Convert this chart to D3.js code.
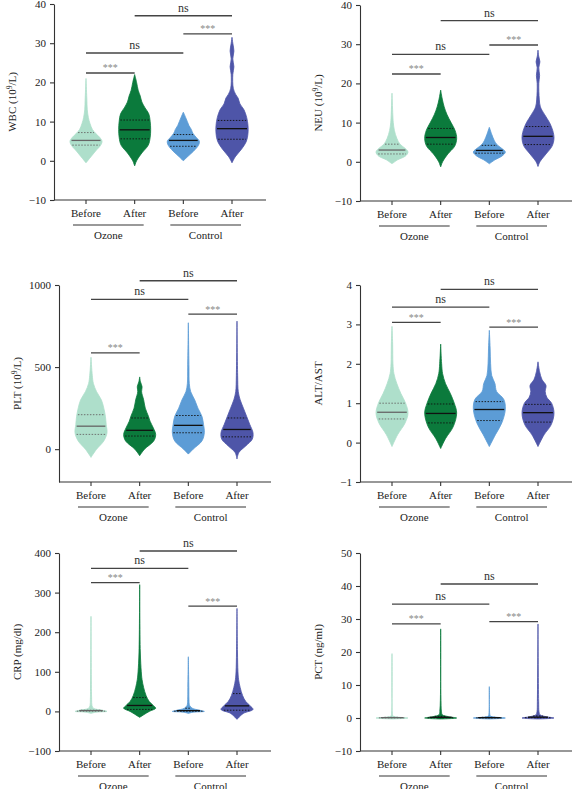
<!DOCTYPE html>
<html>
<head>
<meta charset="utf-8">
<script src="https://cdn.jsdelivr.net/npm/d3@7"></script>
<style>
  body { margin: 0; background: #fff; }
  svg text { font-family: "Liberation Serif", "DejaVu Serif", serif; }
</style>
</head>
<body>
<svg id="chart" width="572" height="789"></svg>
<script>
// shared
const categories = ["Before", "After", "Before", "After"];
const groups = ["Ozone", "Control"];
const colors = ["#aedfcb", "#0b7a3c", "#5c9cd6", "#4e55a8"];

// each violin: [value, relative width]; quartiles: [q1, median, q3]
// brackets: [from, to, value, label]

// WBC
const wbcTicks = [-10, 0, 10, 20, 30, 40];
const wbcViolins = [
  [[-0.5,0],[1,0.3],[2.5,0.6],[4,0.92],[5,1],[6,0.85],[7,0.6],[8,0.4],[9.5,0.25],[11,0.15],[13,0.08],[16,0.05],[21,0]],
  [[-1.3,0],[0,0.12],[2,0.45],[4,0.85],[6,0.97],[8,1],[10,0.97],[12,0.88],[13.5,0.65],[15,0.45],[16.5,0.35],[18,0.22],[20,0.12],[22,0]],
  [[0,0],[1,0.25],[2.5,0.65],[4,0.95],[5,1],[6,0.8],[7,0.6],[8,0.5],[9,0.35],[10,0.25],[11,0.15],[12.4,0]],
  [[-0.5,0],[1,0.2],[3,0.6],[5,0.9],[7,1],[9,1],[11,0.92],[13,0.75],[14.5,0.5],[16,0.38],[17,0.22],[18.5,0.08],[22,0.05],[24,0.12],[26,0.05],[28,0.12],[30,0.05],[31.5,0]]
];
const wbcQuartiles = [[4.0,5.2,7.2],[5.6,7.9,10.4],[3.7,5.2,6.7],[5.5,8.2,10.3]];
const wbcBrackets = [[0,1,22.4,"***"],[0,2,27.5,"ns"],[2,3,32.4,"***"],[1,3,37,"ns"]];

// NEU
const neuTicks = [-10, 0, 10, 20, 30, 40];
const neuViolins = [
  [[-0.5,0],[0.5,0.35],[1.5,0.85],[2.5,1],[3.5,0.8],[4.5,0.5],[6,0.3],[8,0.15],[10,0.08],[12,0.05],[17.5,0]],
  [[-1.3,0],[0,0.12],[2,0.45],[4,0.88],[6,1],[8,0.9],[10,0.65],[12,0.4],[14,0.22],[16,0.1],[18.3,0]],
  [[-0.5,0],[0.5,0.35],[1.5,0.8],[2.5,1],[3.5,0.75],[4.5,0.45],[5.5,0.3],[7,0.15],[8.8,0]],
  [[-1.2,0],[0,0.12],[2,0.5],[4,0.88],[6,1],[8,0.92],[10,0.72],[12,0.42],[14,0.15],[16,0.08],[20,0.05],[22,0.1],[24,0.05],[25.5,0.12],[27,0.04],[28.5,0]]
];
const neuQuartiles = [[2.0,3.0,4.5],[4.5,6.2,8.5],[2.2,2.9,4.2],[4.4,6.5,9.0]];
const neuBrackets = [[0,1,22.4,"***"],[0,2,27.4,"ns"],[2,3,29.8,"***"],[1,3,36,"ns"]];

// PLT
const pltTicks = [0, 500, 1000];
const pltViolins = [
  [[-50,0],[0,0.35],[50,0.8],[100,1],[150,0.95],[200,0.9],[250,0.8],[300,0.65],[350,0.35],[400,0.15],[450,0.08],[560,0]],
  [[-40,0],[0,0.3],[50,0.88],[90,1],[130,0.85],[170,0.65],[200,0.55],[250,0.35],[300,0.25],[350,0.12],[380,0.15],[410,0.05],[440,0]],
  [[-30,0],[0,0.3],[50,0.85],[100,1],[150,0.95],[200,0.85],[250,0.6],[300,0.4],[350,0.15],[400,0.06],[500,0.04],[770,0]],
  [[-60,0],[-20,0.12],[20,0.55],[60,0.95],[100,1],[150,0.8],[200,0.6],[250,0.4],[300,0.2],[350,0.08],[450,0.04],[780,0]]
];
const pltQuartiles = [[90,140,210],[80,115,190],[100,145,205],[75,120,190]];
const pltBrackets = [[0,1,587,"***"],[0,2,913,"ns"],[2,3,823,"***"],[1,3,1026,"ns"]];

// ALT/AST
const altTicks = [-1, 0, 1, 2, 3, 4];
const altViolins = [
  [[-0.1,0],[0.2,0.35],[0.5,0.82],[0.75,1],[1,0.85],[1.25,0.55],[1.5,0.3],[1.75,0.12],[2,0.06],[2.5,0.04],[2.95,0]],
  [[-0.15,0],[0.1,0.3],[0.4,0.78],[0.75,1],[1,0.85],[1.25,0.6],[1.5,0.3],[1.75,0.12],[2,0.06],[2.5,0]],
  [[-0.1,0],[0.2,0.38],[0.5,0.78],[0.85,1],[1.1,0.9],[1.3,0.45],[1.5,0.35],[1.7,0.15],[2,0.08],[2.4,0.05],[2.85,0]],
  [[-0.1,0],[0.2,0.38],[0.45,0.82],[0.75,1],[1,0.85],[1.15,0.55],[1.3,0.45],[1.45,0.5],[1.6,0.25],[1.8,0.1],[2.05,0]]
];
const altQuartiles = [[0.6,0.77,1.0],[0.5,0.74,0.98],[0.56,0.84,1.04],[0.52,0.76,0.97]];
const altBrackets = [[0,1,3.05,"***"],[0,2,3.44,"ns"],[2,3,2.93,"***"],[1,3,3.89,"ns"]];

// CRP
const crpTicks = [-100, 0, 100, 200, 300, 400];
const crpViolins = [
  [[-5,0],[-2,0.3],[0,1],[3,0.7],[8,0.15],[15,0.06],[30,0.04],[50,0.03],[240,0]],
  [[-15,0],[0,0.6],[8,1],[15,0.85],[25,0.6],[40,0.4],[60,0.25],[80,0.15],[100,0.1],[150,0.04],[320,0]],
  [[-5,0],[-2,0.3],[0,1],[3,0.7],[8,0.25],[15,0.08],[30,0.04],[60,0.03],[138,0]],
  [[-20,0],[-5,0.4],[5,1],[15,0.8],[25,0.55],[40,0.35],[60,0.2],[80,0.1],[100,0.06],[150,0.03],[260,0]]
];
const crpQuartiles = [[0.5,2,3],[5,15,35],[0.5,2,8],[3,14,45]];
const crpBrackets = [[0,1,325,"***"],[0,2,361,"ns"],[2,3,266,"***"],[1,3,405,"ns"]];

// PCT
const pctTicks = [-10, 0, 10, 20, 30, 40, 50];
const pctViolins = [
  [[-0.3,0],[0,1],[0.3,0.3],[0.6,0.06],[1,0.03],[19.5,0]],
  [[-0.3,0],[0,1],[0.4,0.5],[1,0.1],[2,0.05],[27,0]],
  [[-0.3,0],[0,1],[0.3,0.3],[0.6,0.06],[1,0.03],[9.5,0]],
  [[-0.3,0],[0,1],[0.4,0.5],[1,0.12],[2,0.06],[5,0.04],[28.5,0]]
];
const pctQuartiles = [[0.05,0.1,0.2],[0.1,0.2,0.5],[0.05,0.1,0.2],[0.1,0.25,0.6]];
const pctBrackets = [[0,1,28.5,"***"],[0,2,34.5,"ns"],[2,3,29.2,"***"],[1,3,40.6,"ns"]];

const panels = [
  {label: ["WBC (10", "9", "/L)"], ticks: wbcTicks, violins: wbcViolins, quart: wbcQuartiles, brackets: wbcBrackets, ax: 54, top: 4, bottom: 200},
  {label: ["NEU (10", "9", "/L)"], ticks: neuTicks, violins: neuViolins, quart: neuQuartiles, brackets: neuBrackets, ax: 360, top: 5, bottom: 201},
  {label: ["PLT (10", "9", "/L)"], ticks: pltTicks, domain: [-200, 1000], violins: pltViolins, quart: pltQuartiles, brackets: pltBrackets, ax: 59, top: 285, bottom: 482},
  {label: ["ALT/AST"], ticks: altTicks, violins: altViolins, quart: altQuartiles, brackets: altBrackets, ax: 360, top: 285, bottom: 482},
  {label: ["CRP (mg/dl)"], ticks: crpTicks, violins: crpViolins, quart: crpQuartiles, brackets: crpBrackets, ax: 59, top: 553, bottom: 751},
  {label: ["PCT (ng/ml)"], ticks: pctTicks, violins: pctViolins, quart: pctQuartiles, brackets: pctBrackets, ax: 360, top: 553, bottom: 751}
];

const svg = d3.select("#chart");
const width = d3.scaleLinear().domain([0, 1]).range([0, 16]);

// width of violin at value v (linear between profile points)
function widthAt(prof, v) {
  for (let i = 1; i < prof.length; i++) {
    if (v <= prof[i][0]) {
      const a = prof[i-1], b = prof[i];
      const t = (v - a[0]) / (b[0] - a[0]);
      return a[1] + t * (b[1] - a[1]);
    }
  }
  return 0;
}

panels.forEach(p => {
  const dom = p.domain || d3.extent(p.ticks);
  const y = d3.scaleLinear().domain(dom).range([p.bottom, p.top]);
  const x = d3.scalePoint().domain([0, 1, 2, 3]).range([32, 178]);
  const g = svg.append("g").attr("transform", `translate(${p.ax},0)`);

  // violins
  p.violins.forEach((prof, i) => {
    const cx = x(i);
    const area = d3.area()
      .curve(d3.curveCatmullRom)
      .y(d => y(d[0]))
      .x0(d => cx - width(d[1]))
      .x1(d => cx + width(d[1]));
    g.append("path").attr("d", area(prof)).attr("fill", colors[i]).attr("stroke", colors[i]).attr("stroke-width", 0.8);

    const lineCol = i === 0 ? "#666" : "#111";
    p.quart[i].forEach((q, k) => {
      const hw = Math.max(width(widthAt(prof, q)) - 1, 1.5);
      g.append("line")
        .attr("x1", cx - hw).attr("x2", cx + hw)
        .attr("y1", y(q)).attr("y2", y(q))
        .attr("stroke", lineCol)
        .attr("stroke-width", k === 1 ? 1.3 : 0.9)
        .attr("stroke-dasharray", k === 1 ? null : "1.5,1.5");
    });
  });

  // axes
  const yAxis = d3.axisLeft(y).tickValues(p.ticks).tickSize(4).tickSizeOuter(0).tickFormat(d => d < 0 ? "\u2212" + Math.abs(d) : d);
  const ya = g.append("g").call(yAxis);
  ya.selectAll("text").attr("font-size", 11).attr("fill", "#222").attr("dx", -1);
  ya.selectAll("path,line").attr("stroke", "#333").attr("stroke-width", 1.1);

  const xa = g.append("g").attr("transform", `translate(0,${p.bottom})`);
  xa.append("line").attr("x1", 0).attr("x2", 212).attr("stroke", "#333").attr("stroke-width", 1.1);
  x.domain().forEach(i => {
    xa.append("line").attr("x1", x(i)).attr("x2", x(i)).attr("y1", 0).attr("y2", 4).attr("stroke", "#333").attr("stroke-width", 1.1);
    xa.append("text").attr("x", x(i)).attr("y", 17).attr("text-anchor", "middle").attr("font-size", 11).attr("fill", "#222").text(categories[i]);
  });
  groups.forEach((gr, j) => {
    const a = x(j * 2), b = x(j * 2 + 1);
    xa.append("line").attr("x1", a - 13).attr("x2", b + 9).attr("y1", 25).attr("y2", 25).attr("stroke", "#777").attr("stroke-width", 1.5);
    xa.append("text").attr("x", (a + b) / 2 - 2).attr("y", 39).attr("text-anchor", "middle").attr("font-size", 11).attr("fill", "#222").text(gr);
  });

  // y label
  const lab = g.append("text")
    .attr("transform", `translate(-38,${(p.top + p.bottom) / 2}) rotate(-90)`)
    .attr("text-anchor", "middle").attr("font-size", 11).attr("fill", "#222");
  lab.append("tspan").text(p.label[0]);
  if (p.label.length > 1) {
    lab.append("tspan").attr("dy", -4).attr("font-size", 7.5).text(p.label[1]);
    lab.append("tspan").attr("dy", 4).text(p.label[2]);
  }

  // significance brackets
  p.brackets.forEach(([a, b, v, t]) => {
    const yy = y(v);
    g.append("line").attr("x1", x(a)).attr("x2", x(b)).attr("y1", yy).attr("y2", yy).attr("stroke", "#444").attr("stroke-width", 1.3);
    g.append("text").attr("x", (x(a) + x(b)) / 2).attr("y", t === "ns" ? yy - 4 : yy - 1.5)
      .attr("text-anchor", "middle")
      .attr("font-size", t === "ns" ? 12 : 10)
      .attr("fill", t === "ns" ? "#333" : "#888")
      .text(t);
  });
});
</script>
</body>
</html>
